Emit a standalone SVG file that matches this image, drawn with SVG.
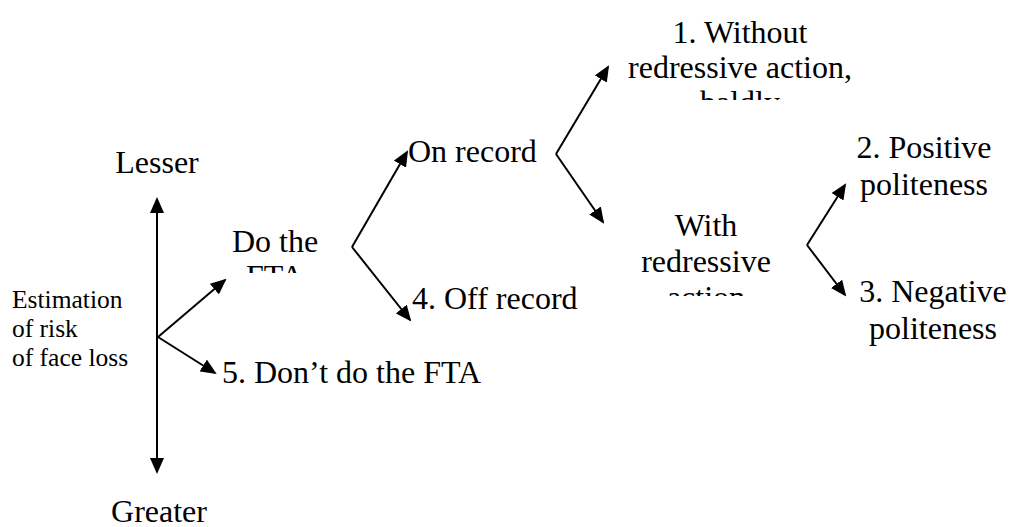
<svg xmlns="http://www.w3.org/2000/svg" width="1009" height="527" viewBox="0 0 1009 527">
<style>
.t{font-family:"Liberation Serif","Times New Roman",serif;font-size:32px;fill:#000}
.s{font-family:"Liberation Serif","Times New Roman",serif;font-size:25.5px;fill:#000}
.c{text-anchor:middle}
.ln{stroke:#000;stroke-width:2;fill:none;marker-end:url(#ah)}
</style>
<defs>
<marker id="ah" markerUnits="userSpaceOnUse" markerWidth="16" markerHeight="14" refX="14" refY="7" orient="auto-start-reverse">
<path d="M0,0 L16,7 L0,14 z" fill="#000"/>
</marker>
<clipPath id="cpDo"><rect x="200" y="200" width="150" height="73"/></clipPath>
<clipPath id="cpWithout"><rect x="600" y="0" width="300" height="100"/></clipPath>
<clipPath id="cpWith"><rect x="620" y="200" width="180" height="96"/></clipPath>
</defs>
<rect width="1009" height="527" fill="#fff"/>
<g id="connectors">
<path class="ln" d="M157,199 L157,472" style="marker-start:url(#ah)"/>
<path class="ln" d="M158,337 L225,280"/>
<path class="ln" d="M158,337 L215,373"/>
<path class="ln" d="M352,247 L407,152"/>
<path class="ln" d="M352,247 L410,320"/>
<path class="ln" d="M556,154 L608,67"/>
<path class="ln" d="M556,154 L603,222"/>
<path class="ln" d="M807,245 L845,185"/>
<path class="ln" d="M807,245 L845,295"/>
</g>
<g id="lesser"><text class="t c" x="157" y="173">Lesser</text></g>
<g id="greater"><text class="t c" x="159" y="522">Greater</text></g>
<g id="estimation"><text class="s" x="12" y="308">Estimation</text><text class="s" x="12" y="337">of risk</text><text class="s" x="12" y="366">of face loss</text></g>
<g id="do-fta" clip-path="url(#cpDo)"><text class="t c" x="275" y="252">Do the<tspan x="275" dy="35">FTA</tspan></text></g>
<g id="dont"><text class="t" x="222" y="383">5. Don’t do the FTA</text></g>
<g id="on-record"><text class="t" x="408" y="162">On record</text></g>
<g id="off-record"><text class="t" x="412" y="309">4. Off record</text></g>
<g id="without" clip-path="url(#cpWithout)"><text class="t c" x="740" y="43">1. Without<tspan x="740" dy="35">redressive action,</tspan><tspan x="740" dy="35">baldly</tspan></text></g>
<g id="with" clip-path="url(#cpWith)"><text class="t c" x="706" y="236">With<tspan x="706" dy="36">redressive</tspan><tspan x="706" dy="36">action</tspan></text></g>
<g id="positive"><text class="t c" x="924" y="158">2. Positive<tspan x="924" dy="37">politeness</tspan></text></g>
<g id="negative"><text class="t c" x="933" y="302">3. Negative<tspan x="933" dy="37">politeness</tspan></text></g>
</svg>
